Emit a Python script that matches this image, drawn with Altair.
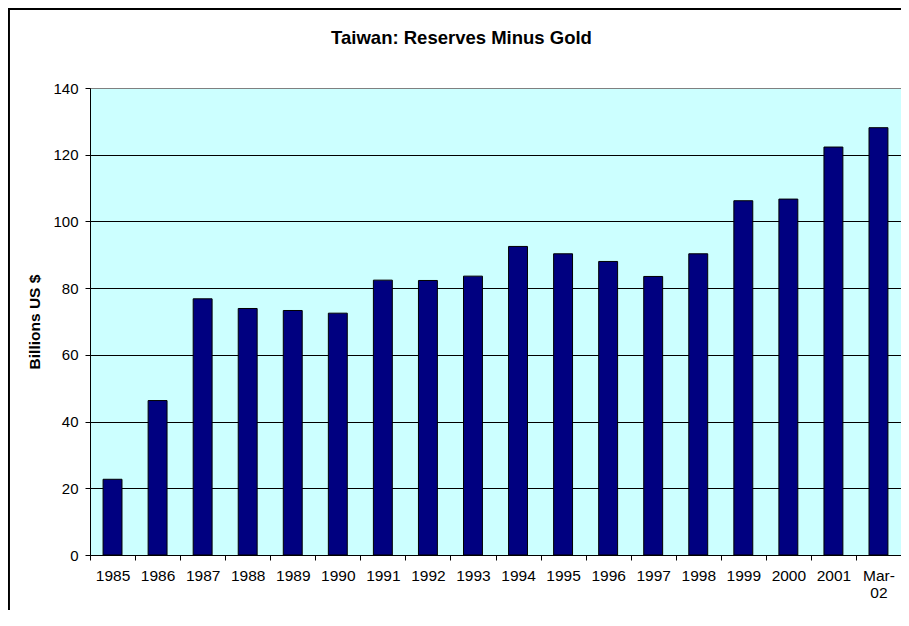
import altair as alt
import pandas as pd

periods = ["1985", "1986", "1987", "1988", "1989", "1990", "1991", "1992", "1993",
           "1994", "1995", "1996", "1997", "1998", "1999", "2000", "2001", "Mar-02"]
reserves = [22.7, 46.3, 76.8, 73.9, 73.3, 72.5, 82.4, 82.3, 83.6,
            92.5, 90.3, 88.0, 83.5, 90.3, 106.2, 106.7, 122.3, 128.1]
y_ticks = [0, 20, 40, 60, 80, 100, 120, 140]
title_text = "Taiwan: Reserves Minus Gold"

df = pd.DataFrame({"period": periods, "value": reserves})

FONT = "Liberation Sans"

x_enc = alt.X(
    "period:N", sort=periods,
    scale=alt.Scale(paddingInner=0, paddingOuter=0),
    axis=alt.Axis(
        title=None, labelAngle=0, labelFontSize=15.5, labelFont=FONT, labelColor="black",
        labelPadding=8, tickBand="extent", tickColor="black", tickSize=5,
        domainColor="black", labelExpr="datum.label == 'Mar-02' ? ['Mar-', '02'] : datum.label",
        labelLineHeight=17,
    ),
)
y_enc = alt.Y(
    "value:Q",
    scale=alt.Scale(domain=[0, 140], nice=False),
    axis=alt.Axis(
        values=y_ticks, title="Billions US $", titleFont=FONT, titleFontSize=15.5,
        titleFontWeight="bold", titleColor="black", titleX=-51, titleY=233.5,
        titleAngle=270, titleAlign="center", titleBaseline="alphabetic",
        labelFontSize=15, labelFont=FONT, labelColor="black", labelPadding=7,
        tickColor="black", tickSize=5, domainColor="black",
        grid=True, gridColor={"condition": {"test": "datum.value == 140", "value": "#808080"}, "value": "black"},
        gridOpacity=1,
    ),
)

bars = alt.Chart(df).mark_bar(
    color="#000080", stroke="black", strokeWidth=1, width=alt.RelativeBandSize(0.42)
).encode(x=x_enc, y=y_enc)

frame = alt.Chart(df).mark_rect(fill=None, stroke="black", strokeWidth=1.3, clip=False).encode(
    x=alt.value(-81.5), x2=alt.value(950), y=alt.value(-79.5), y2=alt.value(700)
)

title = alt.Chart(pd.DataFrame({"t": [title_text]})).mark_text(
    font=FONT, fontSize=18.5, fontWeight="bold", color="black",
    align="center", baseline="alphabetic", clip=False,
).encode(text="t:N", x=alt.value(371.5), y=alt.value(-44))

chart = alt.layer(bars, frame, title).properties(
    width=811, height=467,
    padding={"left": 82, "top": 80, "right": 0, "bottom": 55},
    autosize=alt.AutoSizeParams(type="none"),
).configure_view(fill="#CCFFFF", stroke="#808080", strokeWidth=1)

chart.save("out.html", embed_options={"renderer": "svg", "actions": False})
